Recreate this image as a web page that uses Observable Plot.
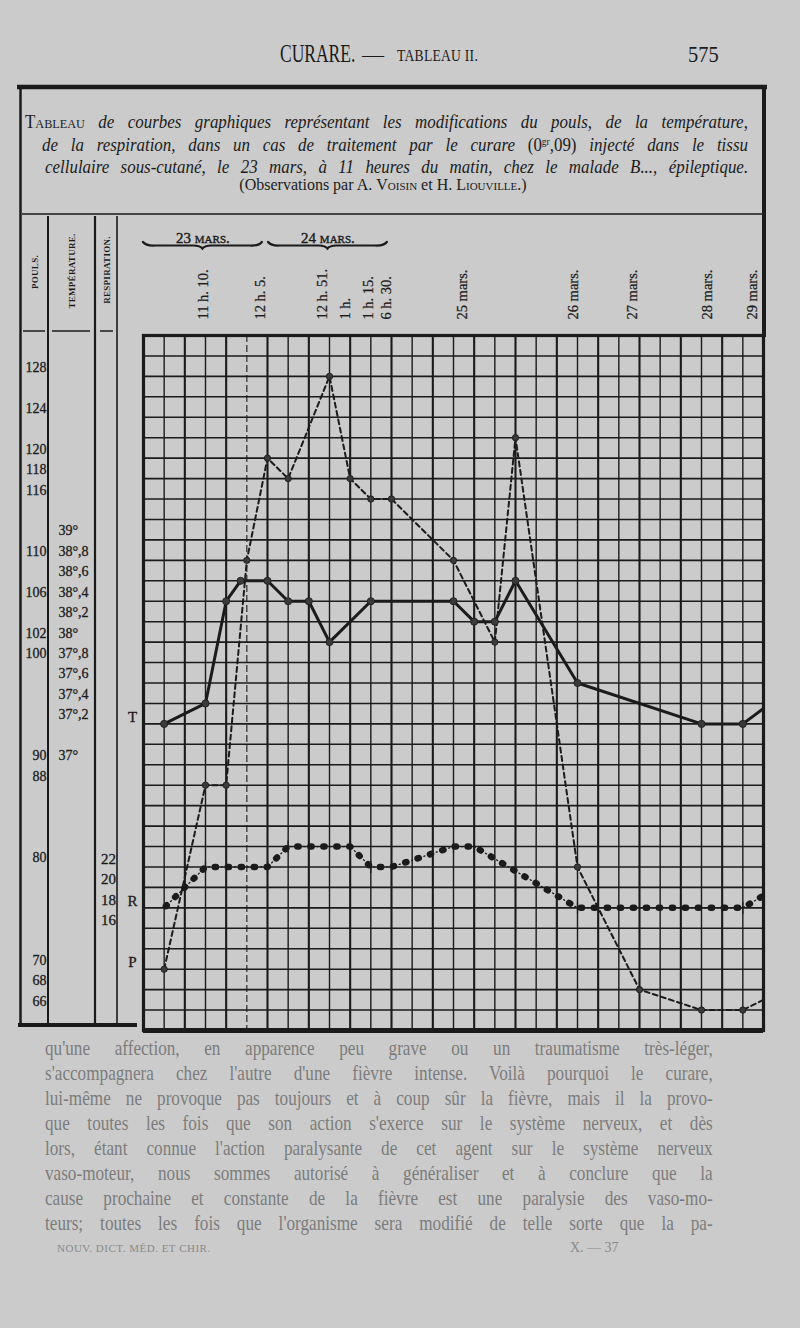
<!DOCTYPE html>
<html><head><meta charset="utf-8">
<script src="https://cdn.jsdelivr.net/npm/d3@7"></script>
<script src="https://cdn.jsdelivr.net/npm/@observablehq/plot@0.6"></script>
<style>
html,body{margin:0;padding:0;background:#cbcbcb;}
#page{position:relative;width:800px;height:1328px;overflow:hidden;background:#cbcbcb;font-family:"Liberation Serif",serif;color:#1b1b1b;}
#frame,#chart{position:absolute;left:0;top:0;}
#chart svg{background:transparent;}
.a{position:absolute;white-space:nowrap;}
.tl{position:absolute;white-space:nowrap;text-align:justify;text-align-last:justify;font-style:italic;font-size:18px;line-height:20px;transform:scaleX(0.94);transform-origin:left;}
.sc{font-style:normal;font-variant:small-caps;}
sup{font-size:10px;vertical-align:6px;line-height:0;}
.bt{position:absolute;left:45px;width:856px;white-space:nowrap;text-align:justify;text-align-last:justify;font-size:22px;line-height:22px;color:#7c7c7c;transform:scaleX(0.78);transform-origin:left;}
</style></head>
<body><div id="page">
<svg id="frame" width="800" height="1040" stroke="#1b1b1b" fill="none">
  <line x1="17" y1="87" x2="767" y2="87" stroke-width="4.5"/>
  <line x1="20.5" y1="86" x2="20.5" y2="1027" stroke-width="2.5"/>
  <line x1="764" y1="86" x2="764" y2="337" stroke-width="4"/>
  <line x1="22" y1="214" x2="764" y2="214" stroke-width="1.4"/>
  <line x1="48" y1="216" x2="48" y2="1023" stroke-width="2"/>
  <line x1="95" y1="216" x2="95" y2="1023" stroke-width="2.2"/>
  <line x1="117" y1="216" x2="117" y2="1023" stroke-width="1.6"/>
  <line x1="23" y1="331" x2="45" y2="331" stroke-width="1.5"/>
  <line x1="52" y1="331" x2="90" y2="331" stroke-width="1.5"/>
  <line x1="100" y1="331" x2="113" y2="331" stroke-width="1.5"/>
  <line x1="18" y1="1025" x2="137" y2="1025" stroke-width="4"/>
  <g font-family="Liberation Serif" font-weight="bold" font-size="9" letter-spacing="0.3" fill="#1b1b1b" stroke="none" text-anchor="middle" dominant-baseline="central">
    <text transform="translate(35,272) rotate(-90)">POULS.</text>
    <text transform="translate(72,271) rotate(-90)">TEMPÉRATURE.</text>
    <text transform="translate(107,270) rotate(-90)">RESPIRATION.</text>
  </g>
</svg>
<div id="chart"></div>

<div class="a" style="left:280px;top:40px;font-size:25px;transform:scaleX(0.7);transform-origin:left;">CURARE.</div>
<div class="a" style="left:362px;top:42px;font-size:22px;">—</div>
<div class="a" style="left:397px;top:47px;font-size:16px;transform:scaleX(0.85);transform-origin:left;letter-spacing:0.3px;">TABLEAU II.</div>
<div class="a" style="left:688px;top:41px;font-size:24px;transform:scaleX(0.85);transform-origin:left;">575</div>

<div class="tl" style="top:112px;left:25px;width:769px;"><span class="sc">Tableau</span> de courbes graphiques représentant les modifications du pouls, de la température,</div>
<div class="tl" style="top:135px;left:42px;width:751px;">de la respiration, dans un cas de traitement par le curare <span style="font-style:normal">(0<sup>gr</sup>,09)</span> injecté dans le tissu</div>
<div class="tl" style="top:157px;left:45px;width:748px;">cellulaire sous-cutané, le 23 mars, à 11 heures du matin, chez le malade B..., épileptique.</div>
<div class="a" style="top:175px;left:0;width:766px;text-align:center;font-size:16px;line-height:20px;">(Observations par A. <span class="sc">Voisin</span> et H. <span class="sc">Liouville</span>.)</div>

<div class="bt" style="top:1037px;">qu'une affection, en apparence peu grave ou un traumatisme très-léger,</div>
<div class="bt" style="top:1062px;">s'accompagnera chez l'autre d'une fièvre intense. Voilà pourquoi le curare,</div>
<div class="bt" style="top:1087px;">lui-même ne provoque pas toujours et à coup sûr la fièvre, mais il la provo-</div>
<div class="bt" style="top:1112px;">que toutes les fois que son action s'exerce sur le système nerveux, et dès</div>
<div class="bt" style="top:1137px;">lors, étant connue l'action paralysante de cet agent sur le système nerveux</div>
<div class="bt" style="top:1162px;">vaso-moteur, nous sommes autorisé à généraliser et à conclure que la</div>
<div class="bt" style="top:1187px;">cause prochaine et constante de la fièvre est une paralysie des vaso-mo-</div>
<div class="bt" style="top:1212px;">teurs; toutes les fois que l'organisme sera modifié de telle sorte que la pa-</div>
<div class="a" style="top:1242px;left:57px;font-size:11px;color:#8a8a8a;letter-spacing:0.5px;">NOUV. DICT. MÉD. ET CHIR.</div>
<div class="a" style="top:1240px;left:570px;font-size:14px;color:#8a8a8a;">X. — 37</div>
</div>
<script>
// ---- axes as printed ----
const pulseTicks = [128,124,120,118,116,110,106,102,100,90,88,80,70,68,66];
const tempTicks = [39,38.8,38.6,38.4,38.2,38,37.8,37.6,37.4,37.2,37];
const respTicks = [22,20,18,16];
// temperature column as printed (37° sits two rows under 37°,2)
const tempAxisDomain = [37, 37.2, 39];
const tempAxisPulse = [90, 94, 112];
// respiration 22 is printed on the pulse-80 line
const respOffset = 58;

// ---- observations (x = column of the grid) ----
const pulseCols = [1,3,4,5,6,7,9,10,11,12,15,17,18,21,24,27,29,30];
const pulseVals = [70,88,88,110,120,118,128,118,116,116,110,102,122,80,68,66,66,67];
const tempCols = [1,3,4,4.7,6,7,8,9,11,15,16,17,18,21,27,29,30];
const tempVals = [37.2,37.4,38.4,38.6,38.6,38.4,38.4,38.0,38.4,38.4,38.2,38.2,38.6,37.6,37.2,37.2,37.35];
const respCols = [1,3,6,7,10,11,12,15,16,21,29,30];
const respVals = [18,22,22,24,24,22,22,24,24,18,18,19.2];

const timeLabels = ["11 h. 10.","12 h. 5.","12 h. 51.","1 h.","1 h. 15.","6 h. 30.","25 mars.","26 mars.","27 mars.","28 mars.","29 mars."];
const timeLabelCols = [2.6,5.4,8.4,9.5,10.6,11.5,15.15,20.55,23.4,27,29.2];
const dayGroups = ["23 mars.","24 mars."];
const dayGroupFrom = [0, 6.05];
const dayGroupTo = [5.75, 11.8];
const injectionCol = 5;
const rowLetters = ["T","R","P"];

const ink = "#1b1b1b";
const tempToPulse = d3.scaleLinear().domain(tempAxisDomain).range(tempAxisPulse);
const pulse = pulseCols.map((c,i)=>({c, v: pulseVals[i]}));
const temp = tempCols.map((c,i)=>({c, v: tempToPulse(tempVals[i])}));
const resp = respCols.map((c,i)=>({c, v: respVals[i] + respOffset}));
const fmtT = v => { const [a,b] = v.toFixed(1).split("."); return b === "0" ? a + "°" : a + "°," + b; };
const letters = rowLetters.map((t,i)=>({t, v: [temp, resp, pulse][i][0].v}));
const serif = "Liberation Serif, serif";

const plot = Plot.plot({
  width: 800, height: 1040,
  marginLeft: 143, marginRight: 37, marginTop: 335, marginBottom: 10,
  x: {domain: [0, 30], axis: null},
  y: {domain: [64, 132], axis: null},
  style: {background: "transparent", fontFamily: serif, overflow: "visible"},
  marks: [
    Plot.ruleX(d3.range(1,30,2).filter(c => c !== injectionCol), {stroke: ink, strokeWidth: 1.4}),
    Plot.ruleX(d3.range(2,30,2), {stroke: ink, strokeWidth: 2.1}),
    Plot.ruleY(d3.range(66,132,2), {stroke: ink, strokeWidth: 1.6}),
    Plot.ruleX([injectionCol], {stroke: ink, strokeWidth: 1.1, strokeDasharray: "7,3"}),
    Plot.frame({stroke: ink, strokeWidth: 3.2}),
    Plot.ruleY([64], {stroke: ink, strokeWidth: 5}),
    // respiration: dotted line with crosses
    Plot.line(resp, {x: "c", y: "v", stroke: ink, strokeWidth: 1.3, strokeDasharray: "6,3,1.2,2.8"}),
    Plot.line(resp, {x: "c", y: "v", stroke: ink, strokeWidth: 6.5, strokeDasharray: "1.2,11.8", strokeDashoffset: 10.6}),
    Plot.link(resp, {filter: (d,i) => i > 0 && d.c < 30, x1: "c", x2: "c", y1: d => d.v - 0.6, y2: d => d.v + 0.6, stroke: ink, strokeWidth: 1.2}),
    // pulse: dashed
    Plot.line(pulse, {x: "c", y: "v", stroke: ink, strokeWidth: 2, strokeDasharray: "5,3.5"}),
    Plot.dot(pulse, {filter: d => d.c < 30, x: "c", y: "v", r: 3.2, fill: "#3a3a3a", stroke: ink, strokeWidth: 0.8}),
    // temperature: solid
    Plot.line(temp, {x: "c", y: "v", stroke: ink, strokeWidth: 3}),
    Plot.dot(temp, {filter: d => d.c < 30, x: "c", y: "v", r: 3.6, fill: "#3a3a3a", stroke: ink, strokeWidth: 0.8}),
    // left columns
    Plot.text(pulseTicks, {y: d => d, text: d => String(d), frameAnchor: "left", dx: -97, dy: -9, textAnchor: "end", fontSize: 14, fontFamily: serif, fill: ink, stroke: ink, strokeWidth: 0.3}),
    Plot.text(tempTicks, {y: d => tempToPulse(d), text: fmtT, frameAnchor: "left", dx: -85, dy: -9, textAnchor: "start", fontSize: 14, fontFamily: serif, fill: ink, stroke: ink, strokeWidth: 0.3}),
    Plot.text(respTicks, {y: d => d + respOffset, text: d => String(d), frameAnchor: "left", dx: -35, dy: -8, textAnchor: "middle", fontSize: 15, fontFamily: serif, fill: ink, stroke: ink, strokeWidth: 0.3}),
    Plot.text(letters, {y: "v", text: "t", frameAnchor: "left", dx: -11, dy: -7, textAnchor: "middle", fontSize: 15, fontFamily: serif, fill: ink, stroke: ink, strokeWidth: 0.3}),
    // top header
    Plot.text(timeLabels, {x: (d,i) => timeLabelCols[i], text: d => d, frameAnchor: "top", dy: -16, rotate: -90, textAnchor: "start", fontSize: 14.5, fontFamily: serif, fill: ink, stroke: ink, strokeWidth: 0.25}),
    Plot.text(dayGroups, {x: (d,i) => (dayGroupFrom[i] + dayGroupTo[i]) / 2, text: d => d, frameAnchor: "top", dy: -103, fontVariant: "small-caps", fontSize: 15, fontFamily: serif, fill: ink, stroke: ink, strokeWidth: 0.4})
  ]
});
document.getElementById("chart").appendChild(plot);

// braces under the day groups
const sx = plot.scale("x");
const X = (sx && sx.apply) ? (c => sx.apply(c)) : (c => 143 + c / 30 * 620);
const braceY = 245;
const g = d3.select(plot).append("g").attr("fill", "none").attr("stroke", ink).attr("stroke-width", 2.2).attr("stroke-linecap", "round");
dayGroups.forEach((d, i) => {
  const x0 = X(dayGroupFrom[i]), x1 = X(dayGroupTo[i]), xm = (x0 + x1) / 2, y = braceY;
  g.append("path").attr("d",
    `M${x0},${y-3} Q${x0+3},${y+1} ${x0+12},${y+0.5} L${xm-9},${y+0.5} Q${xm-2},${y+0.8} ${xm},${y+3.5} Q${xm+2},${y+0.8} ${xm+9},${y+0.5} L${x1-12},${y+0.5} Q${x1-3},${y+1} ${x1},${y-3}`);
});
</script>
</body></html>
